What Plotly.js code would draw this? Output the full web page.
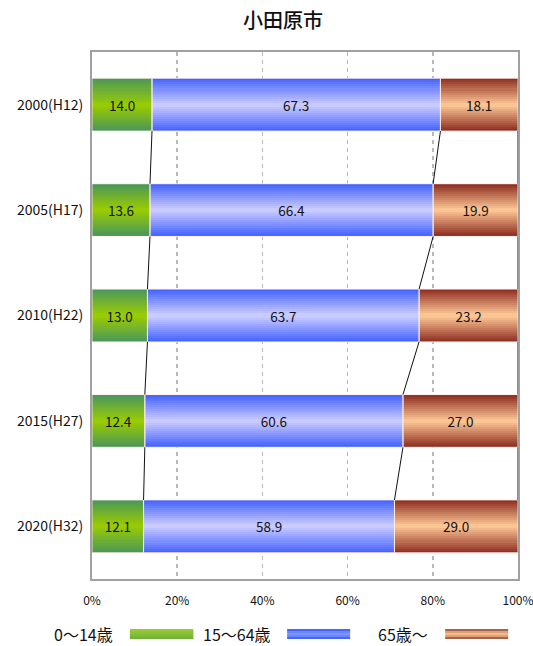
<!DOCTYPE html>
<html>
<head>
<meta charset="utf-8">
<script src="https://cdn.plot.ly/plotly-3.0.1.min.js"></script>
<style>html,body{margin:0;padding:0;background:#fff;}#chart{width:533px;height:646px;}</style>
</head>
<body>
<div id="chart"></div>
<script>
// ---- data ----
const categories = ["2000(H12)", "2005(H17)", "2010(H22)", "2015(H27)", "2020(H32)"];
const seriesNames = ["0〜14歳", "15〜64歳", "65歳〜"];
const age0_14  = [14.0, 13.6, 13.0, 12.4, 12.1];
const age15_64 = [67.3, 66.4, 63.7, 60.6, 58.9];
const age65    = [18.1, 19.9, 23.2, 27.0, 29.0];
const xTickVals = [0, 20, 40, 60, 80, 100];
const xTickText = ["0%", "20%", "40%", "60%", "80%", "100%"];

// ---- styles ----
const FONT = '"Noto Sans CJK JP", "Noto Sans", sans-serif';
const series = [age0_14, age15_64, age65];
const edgeCol = [[72,150,92],[64,96,255],[139,42,30]];
const midCol  = [[155,205,0],[206,206,255],[255,202,152]];
const BAR_W = 0.5;
const NB = 26;

function mix(a, b, t) {
  return 'rgb(' + a.map((v, i) => Math.round(v * t + b[i] * (1 - t))).join(',') + ')';
}

const idx = categories.map((_, i) => i);
// 100% stacked: normalise each category to its total
const totals = idx.map(i => series.reduce((s, arr) => s + arr[i], 0));
const pct = series.map(s => idx.map(i => s[i] / totals[i] * 100));
const starts = pct.map((s, k) => idx.map(i => {
  let b = 0; for (let m = 0; m < k; m++) b += pct[m][i]; return b;
}));

const traces = [];
// gradient bands (each band overlaps the next to avoid seams)
for (let j = 0; j < NB; j++) {
  const t = Math.abs((j + 0.5) / NB - 0.5) * 2;
  const xs = [], ys = [], bs = [], cs = [];
  pct.forEach((s, k) => {
    idx.forEach(i => {
      xs.push(s[i]); ys.push(i); bs.push(starts[k][i]); cs.push(mix(edgeCol[k], midCol[k], t));
    });
  });
  const isLast = j === NB - 1;
  traces.push({
    type: 'bar', orientation: 'h', x: xs, y: ys, base: bs,
    width: BAR_W / NB + (isLast ? 0 : 0.008), offset: -BAR_W / 2 + j * BAR_W / NB,
    marker: {color: cs, line: {width: 0}},
    hoverinfo: 'skip', showlegend: false
  });
}
// outline + labels
pct.forEach((s, k) => {
  traces.push({
    type: 'bar', orientation: 'h', x: s, y: idx, base: starts[k],
    width: BAR_W,
    marker: {color: 'rgba(0,0,0,0)', line: {color: 'rgba(255,235,235,0.85)', width: 1}},
    text: series[k].map(v => v.toFixed(1)), textposition: 'inside', insidetextanchor: 'middle',
    textfont: {family: FONT, size: 13.5, color: '#111'}, constraintext: 'none',
    name: seriesNames[k], showlegend: false, hoverinfo: 'skip'
  });
});
// series lines
const lx = [], ly = [];
[1, 2, 3].forEach(k => {
  for (let i = 0; i < categories.length - 1; i++) {
    const a = (k < 3 ? starts[k][i] : starts[2][i] + pct[2][i]);
    const b = (k < 3 ? starts[k][i + 1] : starts[2][i + 1] + pct[2][i + 1]);
    lx.push(a, b, null); ly.push(i + BAR_W / 2, i + 1 - BAR_W / 2, null);
  }
});
traces.push({type: 'scatter', mode: 'lines', x: lx, y: ly, line: {color: '#111', width: 1},
  cliponaxis: false, hoverinfo: 'skip', showlegend: false});

// custom legend
const legendItems = [
  {text: seriesNames[0], tx: 0.054, x0: 0.089, x1: 0.238,
   cols: ['#97c934', '#8fc436', '#86bf38', '#7cb93a', '#70b23c']},
  {text: seriesNames[1], tx: 0.425, x0: 0.458, x1: 0.606,
   cols: ['#4a64ff', '#6a86ff', '#7a96ff', '#6a86ff', '#4a64ff']},
  {text: seriesNames[2], tx: 0.793, x0: 0.829, x1: 0.977,
   cols: ['#a8644a', '#dfa078', '#f2bc8e', '#dfa078', '#a8644a']}
];
const shapes = [], annotations = [];
const sy0 = -0.0949, sy1 = -0.1139;
legendItems.forEach(it => {
  const n = it.cols.length;
  it.cols.forEach((c, j) => {
    shapes.push({type: 'rect', xref: 'paper', yref: 'paper', x0: it.x0, x1: it.x1,
      y0: sy0 + (sy1 - sy0) * j / n, y1: sy0 + (sy1 - sy0) * (j + 1) / n,
      fillcolor: c, line: {width: 0}});
  });
  annotations.push({xref: 'paper', yref: 'paper', x: it.tx, y: -0.104, xanchor: 'right', yanchor: 'middle',
    text: it.text, showarrow: false, font: {family: FONT, size: 16, color: '#111'}});
});

const layout = {
  width: 533, height: 646,
  margin: {l: 92, r: 15, t: 52, b: 67},
  paper_bgcolor: '#fff', plot_bgcolor: '#fff',
  barmode: 'overlay', bargap: 0,
  title: {text: '小田原市', x: 0.531, xref: 'container', xanchor: 'center', y: 0.968, yanchor: 'middle',
    font: {family: FONT, size: 20, color: '#111', weight: 500}},
  xaxis: {range: [0, 100.0001], tickvals: xTickVals, ticktext: xTickText, ticks: '',
    showgrid: true, gridcolor: '#b8b8b8', griddash: '4px,4px', gridwidth: 1.5,
    showline: true, linecolor: '#a0a0a0', linewidth: 2, mirror: true, zeroline: false,
    tickfont: {family: FONT, size: 12, color: '#111'}, ticklabelstandoff: 10,
    ticklabeloverflow: 'allow', fixedrange: true},
  yaxis: {range: [4.5, -0.5], tickvals: idx, ticktext: categories, ticks: '',
    showgrid: false, showline: true, linecolor: '#a0a0a0', linewidth: 2, mirror: true, zeroline: false,
    tickfont: {family: FONT, size: 14, color: '#111'}, ticklabelstandoff: 4, fixedrange: true},
  shapes: shapes, annotations: annotations,
  showlegend: false
};

Plotly.newPlot('chart', traces, layout, {displayModeBar: false, staticPlot: true});
</script>
</body>
</html>
